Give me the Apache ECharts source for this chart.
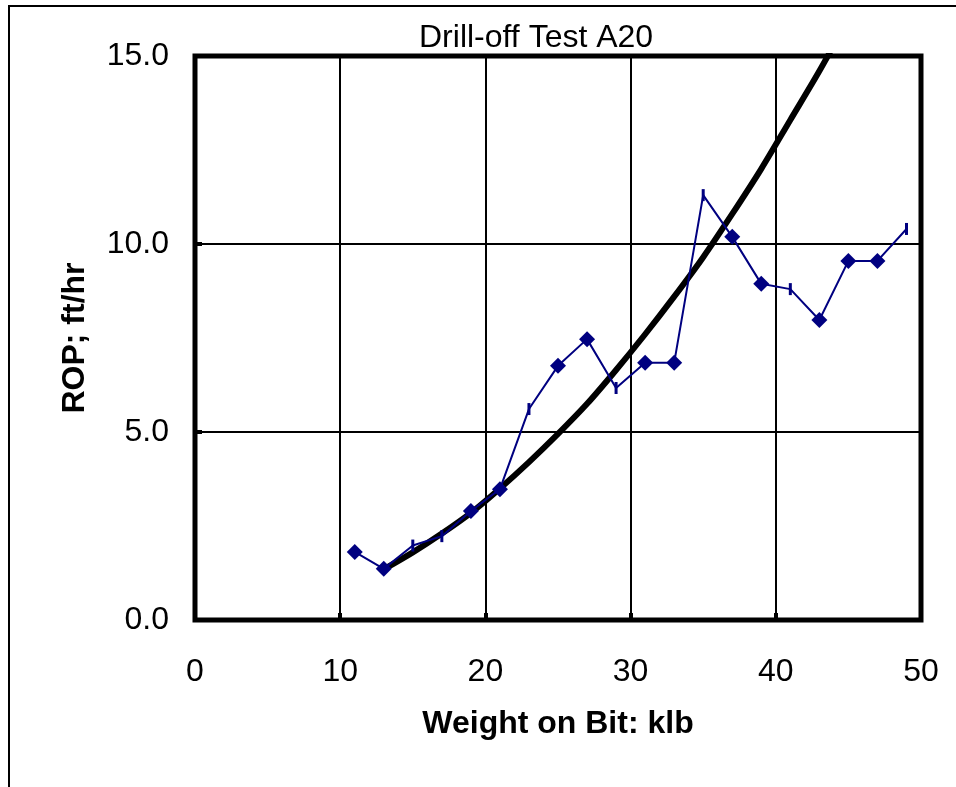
<!DOCTYPE html>
<html>
<head>
<meta charset="utf-8">
<script src="https://cdn.jsdelivr.net/npm/echarts@6/dist/echarts.min.js"></script>
<style>
  html, body { margin: 0; padding: 0; background: #fff; }
  #main { width: 956px; height: 787px; }
</style>
</head>
<body>
<div id="main"></div>
<script>
// drill-off test measurements (weight on bit, klb -> ROP, ft/hr)
const wob = [11, 13, 15, 17, 19, 21, 23, 25, 27, 29, 31, 33, 35, 37, 39, 41, 43, 45, 47, 49];
const rop = [1.81, 1.36, 1.98, 2.23, 2.9, 3.48, 5.61, 6.76, 7.47, 6.17, 6.84, 6.84, 11.3, 10.19, 8.94, 8.8, 7.98, 9.55, 9.55, 10.4];
// points plotted with a short dash instead of a diamond
const dashWob = [15, 17, 23, 29, 35, 41, 49];

// fitted trend curve
const fitWob = [13, 15, 17, 19, 21, 23, 25, 27, 29, 31, 33, 35, 37, 39, 41, 43, 45];
const fitRop = [1.35, 1.8, 2.3, 2.85, 3.5, 4.2, 4.95, 5.75, 6.65, 7.6, 8.6, 9.65, 10.8, 12.0, 13.3, 14.6, 16.0];

const xTicks = [0, 10, 20, 30, 40, 50];
const yTicks = [0, 5, 10, 15];

const FONT = "'Liberation Sans', Arial, sans-serif";
const NAVY = "#000080";

const chart = echarts.init(document.getElementById("main"), null, { renderer: "canvas" });

const obsData = wob.map((w, i) => {
  const dash = dashWob.indexOf(w) >= 0;
  return {
    value: [w, rop[i]],
    symbol: dash ? "rect" : "diamond",
    symbolSize: dash ? [3, 12] : 16,
  };
});

const option = {
  backgroundColor: "#fff",
  animation: false,
  title: {
    text: "Drill-off Test A20",
    left: 419,
    top: 22,
    padding: 0,
    textStyle: { fontFamily: FONT, fontSize: 32, fontWeight: "normal", color: "#000" },
  },
  graphic: [
    {
      // outer frame of the chart object
      type: "rect",
      shape: { x: 9, y: 6, width: 1200, height: 1200 },
      style: { fill: "none", stroke: "#000", lineWidth: 2 },
      silent: true,
    },
  ],
  grid: {
    left: 195,
    right: 35,
    top: 56,
    bottom: 167,
    show: true,
    borderColor: "#000",
    borderWidth: 5,
    backgroundColor: "transparent",
  },
  xAxis: {
    type: "value",
    min: xTicks[0],
    max: xTicks[xTicks.length - 1],
    interval: 10,
    name: "Weight on Bit: klb",
    nameLocation: "middle",
    nameGap: 88,
    nameTextStyle: { fontFamily: FONT, fontSize: 32, fontWeight: "bold", color: "#000" },
    axisLine: { show: false },
    axisTick: { show: true, inside: true, length: 7, lineStyle: { color: "#000", width: 4 } },
    axisLabel: { fontFamily: FONT, fontSize: 32, color: "#000", margin: 36 },
    splitLine: { show: true, lineStyle: { color: "#000", width: 2 } },
  },
  yAxis: {
    type: "value",
    min: yTicks[0],
    max: yTicks[yTicks.length - 1],
    interval: 5,
    name: "ROP; ft/hr",
    nameLocation: "middle",
    nameGap: 104,
    nameTextStyle: { fontFamily: FONT, fontSize: 32, fontWeight: "bold", color: "#000" },
    axisLine: { show: false },
    axisTick: { show: true, inside: true, length: 7, lineStyle: { color: "#000", width: 4 } },
    axisLabel: {
      fontFamily: FONT,
      fontSize: 32,
      color: "#000",
      margin: 26,
      formatter: (v) => v.toFixed(1),
    },
    splitLine: { show: true, lineStyle: { color: "#000", width: 2 } },
  },
  series: [
    {
      name: "trend",
      type: "line",
      data: fitWob.map((w, i) => [w, fitRop[i]]),
      showSymbol: false,
      symbol: "none",
      smooth: 0.3,
      clip: true,
      lineStyle: { color: "#000", width: 6 },
      z: 2,
    },
    {
      name: "measured",
      type: "line",
      data: obsData,
      showSymbol: true,
      clip: true,
      lineStyle: { color: NAVY, width: 2 },
      itemStyle: { color: NAVY },
      z: 3,
    },
  ],
};

chart.setOption(option);
</script>
</body>
</html>
